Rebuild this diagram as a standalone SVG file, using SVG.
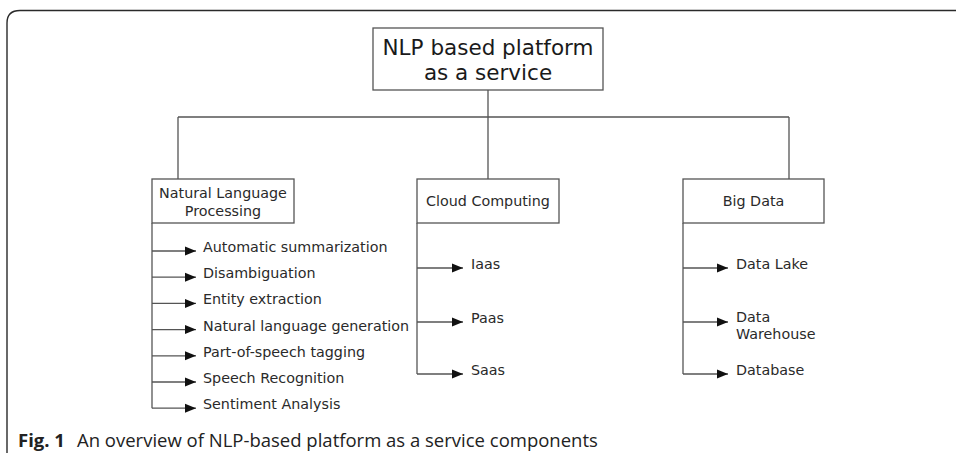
<svg xmlns="http://www.w3.org/2000/svg" width="956" height="453" viewBox="0 0 956 453">
<style>
.box{fill:#fff;stroke:#555;stroke-width:1.3}
.ln{fill:none;stroke:#555;stroke-width:1.3}
.t{font-family:"DejaVu Sans",sans-serif;font-size:14.3px;fill:#2a2a2a}
.tt{font-family:"DejaVu Sans",sans-serif;font-size:21.5px;fill:#1a1a1a}
.cap{font-family:"Open Sans",sans-serif;font-size:18.5px;fill:#222}
</style>
<defs>
<marker id="ah" markerWidth="11" markerHeight="10" refX="11" refY="5" orient="auto" markerUnits="userSpaceOnUse">
<path d="M0,0.5 L11,5 L0,9.5 Z" fill="#111"/>
</marker>
</defs>
<rect width="956" height="453" fill="#fff"/>
<path d="M7,453 V23 Q7,10.5 20,10.5 H956" fill="none" stroke="#2a2a2a" stroke-width="1.4"/>

<g id="connectors">
<path class="ln" d="M488,90 V179 M178,117 H789 M178,117 V179 M789,117 V179"/>
<path class="ln" d="M152,223 V408.2"/>
<path class="ln" marker-end="url(#ah)" d="M152,251 H196"/>
<path class="ln" marker-end="url(#ah)" d="M152,277.2 H196"/>
<path class="ln" marker-end="url(#ah)" d="M152,303.4 H196"/>
<path class="ln" marker-end="url(#ah)" d="M152,329.6 H196"/>
<path class="ln" marker-end="url(#ah)" d="M152,355.8 H196"/>
<path class="ln" marker-end="url(#ah)" d="M152,382 H196"/>
<path class="ln" marker-end="url(#ah)" d="M152,408.2 H196"/>
<path class="ln" d="M417,223 V374"/>
<path class="ln" marker-end="url(#ah)" d="M417,268 H463"/>
<path class="ln" marker-end="url(#ah)" d="M417,322 H463"/>
<path class="ln" marker-end="url(#ah)" d="M417,374 H463"/>
<path class="ln" d="M683,223 V374"/>
<path class="ln" marker-end="url(#ah)" d="M683,268 H728"/>
<path class="ln" marker-end="url(#ah)" d="M683,322 H728"/>
<path class="ln" marker-end="url(#ah)" d="M683,374 H728"/>
</g>

<g id="root">
<rect class="box" x="373" y="28" width="230" height="62"/>
<text class="tt" x="488" y="55" text-anchor="middle">NLP based platform</text>
<text class="tt" x="488" y="80" text-anchor="middle">as a service</text>
</g>

<g id="nlp">
<rect class="box" x="152" y="179" width="142" height="44"/>
<text class="t" x="223" y="198" text-anchor="middle">Natural Language</text>
<text class="t" x="223" y="216" text-anchor="middle">Processing</text>
</g>
<g id="cloud">
<rect class="box" x="417" y="179" width="142" height="44"/>
<text class="t" x="488" y="206" text-anchor="middle">Cloud Computing</text>
</g>
<g id="bigdata">
<rect class="box" x="683" y="179" width="141" height="44"/>
<text class="t" x="753.5" y="206" text-anchor="middle">Big Data</text>
</g>

<g id="nlp-items">
<text class="t" x="203" y="252">Automatic summarization</text>
<text class="t" x="203" y="278">Disambiguation</text>
<text class="t" x="203" y="304">Entity extraction</text>
<text class="t" x="203" y="330.5">Natural language generation</text>
<text class="t" x="203" y="356.5">Part-of-speech tagging</text>
<text class="t" x="203" y="383">Speech Recognition</text>
<text class="t" x="203" y="409">Sentiment Analysis</text>
</g>
<g id="cloud-items">
<text class="t" x="471" y="269">Iaas</text>
<text class="t" x="471" y="323">Paas</text>
<text class="t" x="471" y="375">Saas</text>
</g>
<g id="bigdata-items">
<text class="t" x="736" y="269">Data Lake</text>
<text class="t" x="736" y="322">Data</text>
<text class="t" x="736" y="339">Warehouse</text>
<text class="t" x="736" y="375">Database</text>
</g>

<g id="caption">
<text class="cap" x="18" y="447"><tspan font-weight="bold">Fig. 1</tspan><tspan x="77">An overview of NLP-based platform as a service components</tspan></text>
</g>
</svg>
